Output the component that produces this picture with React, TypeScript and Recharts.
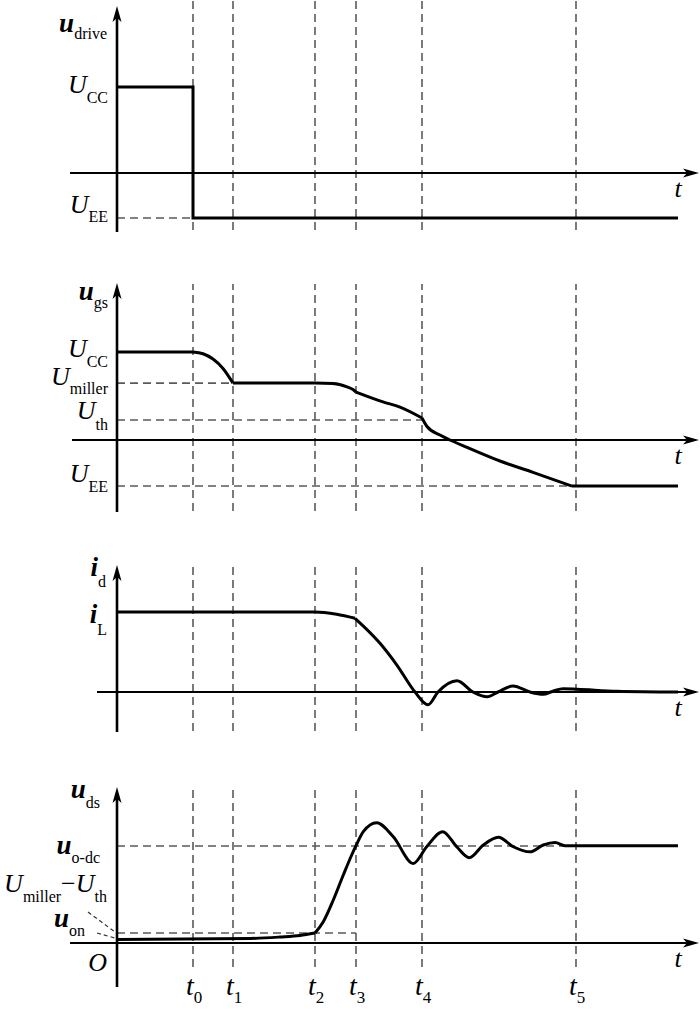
import React from "react";
import { ComposedChart, Line, XAxis, YAxis, ReferenceLine, ReferenceDot } from "recharts";

// ---------- time marks ----------
const tMarks = [7.6, 11.6, 19.8, 23.9, 30.5, 45.9];
const tSubs = ["0", "1", "2", "3", "4", "5"];

// ---------- panel 1: u_drive ----------
const UCC = 15;
const UEE = -7.85;
const driveData = [
  { t: 0, v: 15 }, { t: 7.6, v: 15 }, { t: 7.6, v: -7.85 }, { t: 56.1, v: -7.85 },
];

// ---------- panel 2: u_gs ----------
const UMILLER = 9.7;
const UTH = 3.4;
const gsA0 = [{ t: 0, v: 15 }, { t: 7.6, v: 15 }];
const gsA = [
  { t: 7.6, v: 15 }, { t: 8.6, v: 14.7 }, { t: 9.6, v: 13.8 },
  { t: 10.6, v: 12.2 }, { t: 11.6, v: 9.7 },
];
const gsB = [
  { t: 11.6, v: 9.7 }, { t: 19.8, v: 9.7 }, { t: 21.6, v: 9.62 }, { t: 23.0, v: 9.05 },
  { t: 23.6, v: 8.6 }, { t: 23.9, v: 8.18 },
];
const gsC = [
  { t: 23.9, v: 8.18 }, { t: 26.6, v: 6.5 }, { t: 28.3, v: 5.6 }, { t: 30.5, v: 3.75 },
];
const gsD = [
  { t: 30.5, v: 3.75 }, { t: 31.0, v: 2.3 }, { t: 32.3, v: 0.85 }, { t: 33.3, v: 0 },
  { t: 35.0, v: -1.25 }, { t: 38.3, v: -3.58 }, { t: 41.6, v: -5.51 }, { t: 45.5, v: -7.85 },
];
const gsE = [{ t: 45.5, v: -7.85 }, { t: 56.1, v: -7.85 }];

// ---------- panel 3: i_d ----------
const IL = 10;
const idA = [
  { t: 0, v: 10 }, { t: 19.8, v: 10 }, { t: 21.97, v: 9.71 }, { t: 23.8, v: 9.21 },
];
const idB = [
  { t: 23.8, v: 9.21 }, { t: 26.3, v: 6.09 }, { t: 27.97, v: 3.4 }, { t: 29.8, v: 0 },
  { t: 31.1, v: -1.6 }, { t: 32.1, v: 0 }, { t: 34.0, v: 1.4 }, { t: 35.6, v: 0 },
  { t: 37.0, v: -0.6 }, { t: 38.1, v: 0 }, { t: 39.6, v: 0.75 }, { t: 41.3, v: 0 },
  { t: 42.6, v: -0.28 }, { t: 43.6, v: 0.1 }, { t: 44.6, v: 0.41 }, { t: 46.0, v: 0.35 },
  { t: 50.0, v: 0.1 }, { t: 56.1, v: 0 },
];

// ---------- panel 4: u_ds ----------
const UODC = 400;
const UON = 41.2;
const dsA = [
  { t: 0, v: 14.4 }, { t: 13.3, v: 18.6 }, { t: 16.3, v: 24.7 }, { t: 18.3, v: 30.9 },
  { t: 19.8, v: 41.2 },
];
const dsB = [
  { t: 19.8, v: 41.2 }, { t: 20.63, v: 87.8 }, { t: 21.63, v: 177.3 }, { t: 22.63, v: 280.4 },
  { t: 23.47, v: 362.9 }, { t: 23.9, v: 401.2 }, { t: 24.63, v: 459 }, { t: 25.97, v: 496 },
  { t: 27.63, v: 438 }, { t: 29.63, v: 328 }, { t: 30.97, v: 397 }, { t: 32.57, v: 459 },
  { t: 33.97, v: 397 }, { t: 35.23, v: 352 }, { t: 36.63, v: 404 }, { t: 38.13, v: 436 },
  { t: 39.63, v: 397 }, { t: 41.3, v: 376 }, { t: 42.63, v: 404 }, { t: 43.8, v: 414 },
  { t: 44.8, v: 401 }, { t: 56.1, v: 401 },
];

// ---------- frame (axis extents in each panel's units) ----------
const xDomain = [-11.7, 58.3];
const yDomains: Record<string, number[]> = {
  p1: [-146.34, 30.17],
  p2: [-97.5, 75.0],
  p3: [-40, 86.5],
  p4: [-284.5, 3888.7],
};
const axisTip = { p1: 29.13, p2: 26.76, p3: 15.875, p4: 643.3 } as Record<string, number>;
const axisBottom = { p1: -10.29, p2: -12.27, p3: -5, p4: -181.4 } as Record<string, number>;
const dashTop = { p1: 30.17, p2: 26.59, p3: 16, p4: 643.3 } as Record<string, number>;
const dashBottom = { p1: -9.94, p2: -12.1, p3: -4.875, p4: -99 } as Record<string, number>;
const hStart = { p1: -4.7, p2: -4.5, p3: -2.0, p4: -4.7 } as Record<string, number>;
const hTip = 58.2;
const panels = ["p1", "p2", "p3", "p4"];

const SERIF = "'Liberation Serif', 'Times New Roman', serif";
const DASH = { stroke: "#5a5a5a", strokeWidth: 1.6, strokeDasharray: "8 5" };

const ArrowShape = (p: any) => {
  const { x1, y1, x2, y2 } = p;
  const ang = Math.atan2(y2 - y1, x2 - x1);
  const L = 16, w = 4.5, n = 12;
  const pt = (a: number, b: number) => [
    x2 + a * Math.cos(ang) - b * Math.sin(ang),
    y2 + a * Math.sin(ang) + b * Math.cos(ang),
  ];
  const [bx, by] = pt(-n, 0);
  const poly = [pt(0, 0), pt(-L, -w), pt(-n, 0), pt(-L, w)].map((q) => q.join(",")).join(" ");
  return (
    <g>
      <line x1={x1} y1={y1} x2={bx} y2={by} stroke="#000" strokeWidth={p.sw || 2} />
      <polygon points={poly} fill="#000" />
    </g>
  );
};

type Part = { s: string; k: "ub" | "ui" | "n" | "sub" };
const labelShape = (parts: Part[], dx: number, dy: number, sh: number, anchor: string = "end", subSize = 16, mainSize = 26) => (p: any) => {
  let cur = 0;
  return (
    <text x={p.cx + dx} y={p.cy + dy} textAnchor={anchor} fontFamily={SERIF} fill="#000">
      {parts.map((pt, i) => {
        const target = pt.k === "sub" ? sh : 0;
        const d = target - cur;
        cur = target;
        const style: any = { fontFamily: SERIF };
        if (pt.k === "sub") { style.fontSize = subSize; }
        else { style.fontSize = pt.k === "ub" ? mainSize + 1 : mainSize; }
        if (pt.k === "ub") { style.fontStyle = "italic"; style.fontWeight = "bold"; }
        if (pt.k === "ui") { style.fontStyle = "italic"; }
        return (
          <tspan key={i} dy={d} {...style}>{pt.s}</tspan>
        );
      })}
    </text>
  );
};

type Lbl = { id: string; t: number; v: number; dx: number; dy: number; sh: number; parts: Part[]; anchor?: string; sub?: number; main?: number };
const labels: Lbl[] = [
  { id: "p1", t: 0, v: axisTip.p1, dx: -10, dy: 26, sh: 7, parts: [{ s: "u", k: "ub" }, { s: "drive", k: "sub" }] },
  { id: "p1", t: 0, v: UCC, dx: -9, dy: 6, sh: 10, parts: [{ s: "U", k: "ui" }, { s: "CC", k: "sub" }] },
  { id: "p1", t: 0, v: UEE, dx: -9, dy: -5, sh: 9, parts: [{ s: "U", k: "ui" }, { s: "EE", k: "sub" }] },
  { id: "p2", t: 0, v: axisTip.p2, dx: -9, dy: 17, sh: 8, parts: [{ s: "u", k: "ub" }, { s: "gs", k: "sub" }] },
  { id: "p2", t: 0, v: UCC, dx: -9, dy: 5, sh: 10, parts: [{ s: "U", k: "ui" }, { s: "CC", k: "sub" }] },
  { id: "p2", t: 0, v: UMILLER, dx: -9, dy: 2, sh: 9, parts: [{ s: "U", k: "ui" }, { s: "miller", k: "sub" }] },
  { id: "p2", t: 0, v: UTH, dx: -9, dy: -1, sh: 11, parts: [{ s: "U", k: "ui" }, { s: "th", k: "sub" }] },
  { id: "p2", t: 0, v: UEE, dx: -9, dy: -4, sh: 10, parts: [{ s: "U", k: "ui" }, { s: "EE", k: "sub" }] },
  { id: "p3", t: 0, v: axisTip.p3, dx: -11, dy: 11, sh: 11, parts: [{ s: "i", k: "ub" }, { s: "d", k: "sub" }] },
  { id: "p3", t: 0, v: IL, dx: -10, dy: 11, sh: 12, parts: [{ s: "i", k: "ub" }, { s: "L", k: "sub" }] },
  { id: "p4", t: 0, v: axisTip.p4, dx: -17, dy: 11, sh: 10, parts: [{ s: "u", k: "ub" }, { s: "ds", k: "sub" }] },
  { id: "p4", t: 0, v: UODC, dx: -17, dy: 8, sh: 9, parts: [{ s: "u", k: "ub" }, { s: "o-dc", k: "sub" }] },
  { id: "p4", t: 0, v: UON, dx: -10, dy: -41, sh: 10, parts: [{ s: "U", k: "ui" }, { s: "miller", k: "sub" }, { s: "\u2212", k: "n" }, { s: "U", k: "ui" }, { s: "th", k: "sub" }] },
  { id: "p4", t: 0, v: UON, dx: -32, dy: -6, sh: 9, parts: [{ s: "u", k: "ub" }, { s: "on", k: "sub" }] },
  { id: "p4", t: 0, v: 0, dx: -10, dy: 28, sh: 0, parts: [{ s: "O", k: "ui" }] },
];
panels.forEach((id) => {
  labels.push({ id, t: hTip, v: 0, dx: -21, dy: 24, sh: 0, parts: [{ s: "t", k: "ui" }], anchor: "middle" });
});
tMarks.forEach((tm, i) => {
  labels.push({ id: "p4", t: tm, v: 0, dx: -7, dy: 52, sh: 8, parts: [{ s: "t", k: "ui" }, { s: tSubs[i], k: "sub" }], anchor: "start", sub: 17, main: 28 });
});

const hDashes: { id: string; v: number; to: number }[] = [
  { id: "p1", v: UEE, to: tMarks[0] },
  { id: "p2", v: UMILLER, to: tMarks[1] },
  { id: "p2", v: UTH, to: tMarks[4] },
  { id: "p2", v: UEE, to: tMarks[5] },
  { id: "p4", v: UODC, to: tMarks[5] },
  { id: "p4", v: UON, to: tMarks[3] },
];

const curves: { id: string; data: { t: number; v: number }[]; type: any }[] = [
  { id: "p1", data: driveData, type: "linear" },
  { id: "p2", data: gsA0, type: "linear" },
  { id: "p2", data: gsA, type: "monotone" },
  { id: "p2", data: gsB, type: "monotone" },
  { id: "p2", data: gsC, type: "monotone" },
  { id: "p2", data: gsD, type: "monotone" },
  { id: "p2", data: gsE, type: "linear" },
  { id: "p3", data: idA, type: "monotone" },
  { id: "p3", data: idB, type: "monotone" },
  { id: "p4", data: dsA, type: "monotone" },
  { id: "p4", data: dsB, type: "monotone" },
];

export default function App() {
  return (
    <div style={{ position: "absolute", left: 0, top: 0, width: 700, height: 1012, background: "#fff" }}>
      <ComposedChart width={700} height={1012} margin={{ top: 0, right: 0, bottom: 0, left: 0 }}>
        <XAxis type="number" dataKey="t" domain={xDomain} allowDataOverflow hide />
        {panels.map((id) => (
          <YAxis key={id} yAxisId={id} type="number" domain={yDomains[id]} allowDataOverflow hide />
        ))}
        {panels.flatMap((id) =>
          tMarks.map((tm, i) => (
            <ReferenceLine key={`vd-${id}-${i}`} yAxisId={id} ifOverflow="visible"
              segment={[{ x: tm, y: dashBottom[id] }, { x: tm, y: dashTop[id] }]} {...DASH} />
          ))
        )}
        {hDashes.map((d, i) => (
          <ReferenceLine key={`hd-${i}`} yAxisId={d.id} ifOverflow="visible"
            segment={[{ x: 0, y: d.v }, { x: d.to, y: d.v }]} {...DASH} />
        ))}
        <ReferenceLine yAxisId="p4" ifOverflow="visible" segment={[{ x: -2.9, y: 127.8 }, { x: -0.2, y: 45.4 }]}
          stroke="#333" strokeWidth={1.2} strokeDasharray="4 3" />
        <ReferenceLine yAxisId="p4" ifOverflow="visible" segment={[{ x: -2.0, y: 41.2 }, { x: -0.2, y: 20.6 }]}
          stroke="#333" strokeWidth={1.2} strokeDasharray="4 3" />
        {panels.map((id) => (
          <ReferenceLine key={`ha-${id}`} yAxisId={id} ifOverflow="visible"
            segment={[{ x: hStart[id], y: 0 }, { x: hTip, y: 0 }]}
            shape={(p: any) => <ArrowShape {...p} sw={2} />} />
        ))}
        {panels.map((id) => (
          <ReferenceLine key={`va-${id}`} yAxisId={id} ifOverflow="visible"
            segment={[{ x: 0, y: axisBottom[id] }, { x: 0, y: axisTip[id] }]}
            shape={(p: any) => <ArrowShape {...p} sw={2.6} />} />
        ))}
        {curves.map((c, i) => (
          <Line key={`c-${i}`} yAxisId={c.id} data={c.data} dataKey="v" type={c.type}
            stroke="#000" strokeWidth={3} dot={false} activeDot={false} isAnimationActive={false} />
        ))}
        {labels.map((l, i) => (
          <ReferenceDot key={`l-${i}`} yAxisId={l.id} x={l.t} y={l.v} r={1} ifOverflow="visible"
            shape={labelShape(l.parts, l.dx, l.dy, l.sh, l.anchor, l.sub ?? 16, l.main ?? 26)} />
        ))}
      </ComposedChart>
    </div>
  );
}
